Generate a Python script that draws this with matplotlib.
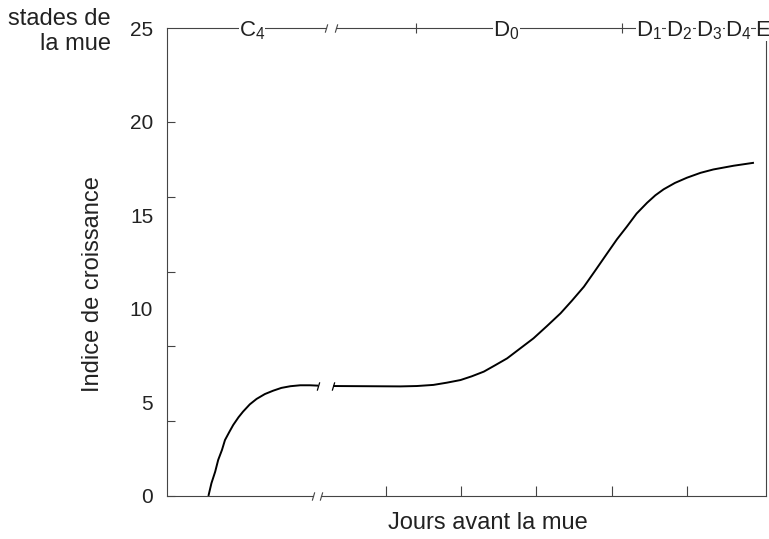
import matplotlib
matplotlib.use("Agg")
import matplotlib.pyplot as plt
from matplotlib.ticker import NullFormatter

plt.rcParams['font.family'] = ['Liberation Sans', 'DejaVu Sans']
plt.rcParams['mathtext.fontset'] = 'custom'
plt.rcParams['mathtext.rm'] = 'Liberation Sans'

# ── données (jours avant la mue / indice de croissance) ─────────────────────
# partie avant la coupure de l'axe
jours_1 = [-7.36, -7.32, -7.27, -7.23, -7.18, -7.14, -7.08, -7.03, -6.96, -6.90,
           -6.81, -6.72, -6.61, -6.50, -6.39, -6.27, -6.14, -6.01, -5.90]
indice_1 = [0.0, 0.68, 1.30, 1.93, 2.46, 2.99, 3.44, 3.80, 4.21, 4.51,
            4.90, 5.19, 5.45, 5.63, 5.78, 5.87, 5.92, 5.92, 5.90]
# partie après la coupure
jours_2 = [-5.70, -4.81, -4.59, -4.37, -4.19, -4.01, -3.86, -3.70, -3.55, -3.39,
           -3.22, -3.04, -2.86, -2.68, -2.53, -2.37, -2.22, -2.06, -1.93, -1.80,
           -1.67, -1.53, -1.42, -1.31, -1.16, -1.00, -0.82, -0.65, -0.38, -0.11]
indice_2 = [5.88, 5.86, 5.88, 5.94, 6.06, 6.20, 6.40, 6.65, 6.99, 7.36,
            7.88, 8.43, 9.09, 9.77, 10.44, 11.19, 12.05, 12.98, 13.73, 14.40,
            15.10, 15.68, 16.08, 16.40, 16.74, 17.02, 17.28, 17.46, 17.66, 17.82]

# stades de la mue (axe du haut)
stades = [r'$\mathregular{C_4}$', r'$\mathregular{D_0}$', r'$\mathregular{D_1}$',
          r'$\mathregular{D_2}$', r'$\mathregular{D_3}$', r'$\mathregular{D_4}$', 'E']
stades_x = [-6.78, -3.40, -1.50, -1.10, -0.70, -0.32, 0.01]
limites_stades = [-4.60, -1.86]

jours_ticks = [-5, -4, -3, -2, -1]
indice_ticks = [0, 4, 8, 12, 16, 20]
indice_labels = [0, 5, 10, 15, 20, 25]

# ── graphique ────────────────────────────────────────────────────────────────
x_min, x_max = -7.91, 0.05
y_min, y_max = 0, 25
couleur_axe = '#444444'
couleur_texte = '#222222'
slash = [(-0.3, -1), (0.3, 1)]

fig = plt.figure(figsize=(7.69, 5.39), dpi=100)
ax = fig.add_axes([0.2172, 0.0798, 0.7789, 0.8674])

ax.plot(jours_1, indice_1, color='black', linewidth=1.4, solid_capstyle='butt')
ax.plot(jours_2, indice_2, color='black', linewidth=1.4, solid_capstyle='butt')
ax.plot([jours_1[-1], jours_2[0]], [indice_1[-1], indice_2[0]], linestyle='none',
        marker=slash, markersize=6, markeredgewidth=0.9, color='black')

ax.set_xlim(x_min, x_max)
ax.set_ylim(y_min, y_max)

# axes avec coupure
for s in ['top', 'bottom']:
    ax.spines[s].set_visible(False)
for s in ['left', 'right']:
    ax.spines[s].set_color(couleur_axe)
    ax.spines[s].set_linewidth(0.8)

ax.plot([x_min, -5.97], [0, 0], color=couleur_axe, lw=0.8, clip_on=False)
ax.plot([-5.86, x_max], [0, 0], color=couleur_axe, lw=0.8, clip_on=False)
ax.plot([-5.97, -5.86], [0, 0], linestyle='none', marker=slash, markersize=6,
        markeredgewidth=0.8, color=couleur_axe, clip_on=False)

ax.plot([x_min, -5.80], [y_max, y_max], color=couleur_axe, lw=0.8, clip_on=False)
ax.plot([-5.66, x_max], [y_max, y_max], color=couleur_axe, lw=0.8, clip_on=False)
ax.plot([-5.80, -5.66], [y_max, y_max], linestyle='none', marker=slash, markersize=6,
        markeredgewidth=0.8, color=couleur_axe, clip_on=False)
ax.plot(limites_stades, [y_max] * len(limites_stades), linestyle='none', marker='|',
        markersize=7, markeredgewidth=0.8, color=couleur_axe, clip_on=False)

for lab, xs in zip(stades, stades_x):
    ax.text(xs, 24.6, lab, ha='center', va='baseline', fontsize=16, color=couleur_texte,
            bbox=dict(facecolor='white', edgecolor='none', pad=0), clip_on=False, zorder=5)

# graduations
ax.set_xticks(jours_ticks)
ax.xaxis.set_major_formatter(NullFormatter())
ax.tick_params(axis='x', direction='in', length=7, width=0.8, color=couleur_axe)

ax.yaxis.remove_overlapping_locs = False
ax.set_yticks(indice_ticks)
ax.yaxis.set_major_formatter(NullFormatter())
ax.set_yticks(indice_labels, labels=[str(v) for v in indice_labels], minor=True)
ax.tick_params(axis='y', which='major', direction='in', length=6, width=0.8, color=couleur_axe)
ax.tick_params(axis='y', which='minor', length=0, pad=10, labelsize=15, labelcolor=couleur_texte)

ax.set_xlabel('Jours avant la mue', fontsize=17, color=couleur_texte)
ax.xaxis.label.set_verticalalignment('center')
ax.xaxis.set_label_coords(0.536, -0.058)
ax.set_ylabel('Indice de croissance', fontsize=17, color=couleur_texte)
ax.yaxis.label.set_verticalalignment('center')
ax.yaxis.set_label_coords(-0.1235, 0.4535)

fig.text(0.1443, 0.985, 'stades de\nla mue', ha='right', va='top', fontsize=17,
         color=couleur_texte, linespacing=1.15)

fig.savefig('out.png', dpi=100)
